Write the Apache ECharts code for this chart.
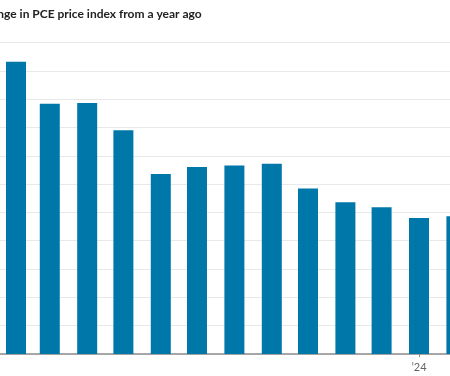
<!DOCTYPE html>
<html>
<head>
<meta charset="utf-8">
<script src="https://cdn.jsdelivr.net/npm/echarts@6/dist/echarts.min.js"></script>
<style>
  html, body { margin: 0; padding: 0; background: #fff; overflow: hidden; }
  #chart { width: 450px; height: 376px; }
</style>
</head>
<body>
<div id="chart"></div>
<script>
// monthly PCE price index, % change from a year earlier
var months = ['2023-02', '2023-03', '2023-04', '2023-05', '2023-06', '2023-07', '2023-08',
              '2023-09', '2023-10', '2023-11', '2023-12', '2024-01', '2024-02'];
var pceChange = [5.16, 4.42, 4.43, 3.95, 3.18, 3.30, 3.33, 3.36, 2.92, 2.68, 2.59, 2.40, 2.43];
var yearTicks = ['2024-01'];
var titleText = 'Change in PCE price index from a year ago';

function toTime(m) {
    var p = m.split('-');
    return Date.UTC(+p[0], +p[1] - 1, 1);
}

var DAY = 86400000;
var chart = echarts.init(document.getElementById('chart'));
var option = {
    animation: false,
    title: {
        text: titleText,
        left: -28.5,
        top: 3,
        textStyle: {
            fontFamily: 'Lato',
            fontSize: 12,
            fontWeight: 'bold',
            color: '#222'
        }
    },
    grid: {
        left: 0,
        right: 0,
        top: 42.5,
        bottom: 22
    },
    xAxis: {
        // timestamps on a plain value scale so months keep their real length
        type: 'value',
        // window is a crop of a wider chart
        min: toTime(months[0]) - 13.26 * DAY,
        max: toTime(yearTicks[0]) + 25.69 * DAY,
        axisLine: { lineStyle: { color: '#8c8c8c', width: 1.5 } },
        axisTick: {
            customValues: yearTicks.map(toTime),
            length: 3,
            lineStyle: { color: '#8c8c8c' }
        },
        axisLabel: {
            customValues: yearTicks.map(toTime),
            formatter: function (v) {
                return '\u2019' + String(new Date(v).getUTCFullYear()).slice(2);
            },
            color: '#666',
            fontFamily: 'Lato',
            fontSize: 11,
            margin: 8
        },
        splitLine: { show: false }
    },
    yAxis: {
        type: 'value',
        min: 0,
        max: 5.5,
        interval: 0.5,
        axisLabel: { show: false },
        axisLine: { show: false },
        axisTick: { show: false },
        splitLine: { lineStyle: { color: '#e8e8e8', width: 1 } }
    },
    series: [
        {
            type: 'bar',
            barWidth: 20,
            itemStyle: { color: '#0077a9' },
            data: months.map(function (m, i) { return [toTime(m), pceChange[i]]; })
        }
    ]
};
chart.setOption(option);
</script>
</body>
</html>
